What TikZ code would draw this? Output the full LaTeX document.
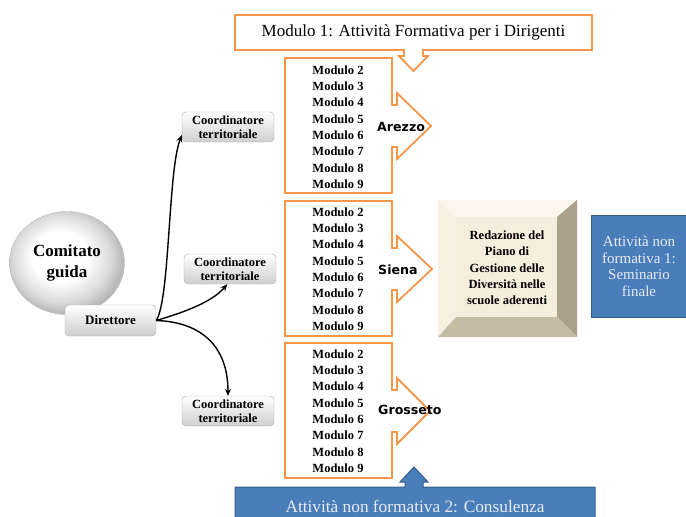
\documentclass[tikz,border=0pt]{standalone}
\usepackage{fontspec}
\setmainfont{Liberation Serif}
\setsansfont{DejaVu Sans}
\usetikzlibrary{arrows.meta,shapes.geometric}
\definecolor{orng}{RGB}{245,150,75}
\definecolor{bluefill}{RGB}{74,126,187}
\definecolor{blueline}{RGB}{56,93,138}
\definecolor{bluetext}{RGB}{232,235,242}
\definecolor{bvface}{RGB}{246,238,221}
\definecolor{bvtop}{RGB}{250,246,236}
\definecolor{bvleft}{RGB}{247,241,228}
\definecolor{bvright}{RGB}{172,162,140}
\definecolor{bvbottom}{RGB}{198,188,166}
\pgfdeclareradialshading{ballsh}{\pgfpoint{-4bp}{4bp}}{color(0bp)=(white); color(12bp)=(white); color(21bp)=(gray!28); color(26bp)=(gray!55); color(50bp)=(gray!55)}
\tikzset{
  orangeline/.style={draw=orng, line width=1.8pt, line join=miter, fill=white},
  modlist/.style={font=\bfseries\fontsize{12.5}{16.3}\selectfont, align=center, inner sep=0pt},
  city/.style={font=\sffamily\bfseries\fontsize{12.6}{14}\selectfont, anchor=west, inner sep=0pt},
  coordbox/.style={rounded corners=4pt, draw=gray!65, top color=white, bottom color=gray!38,
    minimum width=92pt, minimum height=30pt, font=\bfseries\fontsize{12.5}{13.5}\selectfont,
    align=center, inner sep=0pt},
  bluebox/.style={fill=bluefill, draw=blueline, line width=1pt},
  bluetxt/.style={text=bluetext, font=\fontsize{15}{16.5}\selectfont, align=center, inner sep=0pt},
  conn/.style={draw=black, line width=1.4pt, -{Stealth[length=7pt,width=6pt]}},
}
\begin{document}
\begin{tikzpicture}[x=1pt,y=-1pt]
\path[use as bounding box] (0,0) rectangle (686,517);
\clip (0,0) rectangle (686,517);

% top callout
\path[orangeline] (235,15) -- (592,15) -- (592,50) -- (423,50) -- (423,56) -- (428,56) -- (413.5,71)
  -- (399,56) -- (404,56) -- (404,50) -- (235,50) -- cycle;
\node[font=\fontsize{17}{19}\selectfont, inner sep=0pt] (m1) at (413.5,32.5) {Modulo 1: Attività Formativa per i Dirigenti};

% Arezzo callout (cy=126)
\path[orangeline] (285,58) -- (392,58) -- (392,105) -- (397,105) -- (397,93) -- (431,126)
  -- (397,159) -- (397,147) -- (392,147) -- (392,193) -- (285,193) -- cycle;
\node[modlist] (ar) at (338,127) {Modulo 2\\Modulo 3\\Modulo 4\\Modulo 5\\Modulo 6\\Modulo 7\\Modulo 8\\Modulo 9};
\node[city] (arl) at (377,127) {Arezzo};

% Siena callout (cy=269)
\path[orangeline] (285,201) -- (392,201) -- (392,248) -- (397,248) -- (397,236) -- (432,269)
  -- (397,302) -- (397,290) -- (392,290) -- (392,336) -- (285,336) -- cycle;
\node[modlist] (si) at (338,269) {Modulo 2\\Modulo 3\\Modulo 4\\Modulo 5\\Modulo 6\\Modulo 7\\Modulo 8\\Modulo 9};
\node[city] (sil) at (378,270) {Siena};

% Grosseto callout (cy=411)
\path[orangeline] (285,343) -- (392,343) -- (392,390) -- (397,390) -- (397,378) -- (430,411)
  -- (397,444) -- (397,432) -- (392,432) -- (392,478) -- (285,478) -- cycle;
\node[modlist] (gr) at (338,411) {Modulo 2\\Modulo 3\\Modulo 4\\Modulo 5\\Modulo 6\\Modulo 7\\Modulo 8\\Modulo 9};
\node[city] (grl) at (378,410) {Grosseto};

% Comitato guida and Direttore
\node[ellipse, minimum width=115pt, minimum height=103pt, shading=ballsh, draw=gray!55,
  font=\bfseries\fontsize{17}{21}\selectfont, align=center] (cg) at (67,263) {Comitato\\guida};
\node[coordbox, minimum width=91pt, minimum height=31pt, font=\bfseries\fontsize{13}{14}\selectfont] (dir) at (110.5,320.5) {Direttore};

% Coordinatori
\node[coordbox] (c1) at (228,127) {Coordinatore\\territoriale};
\node[coordbox] (c2) at (230,269) {Coordinatore\\territoriale};
\node[coordbox] (c3) at (228,411) {Coordinatore\\territoriale};

\draw[conn] (dir.east) .. controls (170,300) and (168,170) .. (c1.190);
\draw[conn] (dir.east) .. controls (185,312) and (212,302) .. (c2.260);
\draw[conn] (dir.east) .. controls (200,322) and (228,345) .. (c3.north);

% bevel box
\fill[bvtop] (438,200) -- (577,200) -- (557,217) -- (456,217) -- cycle;
\fill[bvleft] (438,200) -- (456,217) -- (456,317) -- (438,337) -- cycle;
\fill[bvright] (577,200) -- (577,337) -- (557,317) -- (557,217) -- cycle;
\fill[bvbottom] (438,337) -- (577,337) -- (557,317) -- (456,317) -- cycle;
\fill[bvface] (456,217) rectangle (557,317);
\node[font=\bfseries\fontsize{12.5}{16.3}\selectfont, align=center, inner sep=0pt] (red) at (507,268)
  {Redazione del\\Piano di\\Gestione delle\\Diversità nelle\\scuole aderenti};

% blue box 1
\node[bluebox, minimum width=95pt, minimum height=102pt, anchor=north west] (b1) at (591,215) {};
\node[bluetxt] (b1t) at (b1.center) {Attività non\\formativa 1:\\Seminario\\finale};

% bottom blue callout
\path[bluebox] (235,487) -- (405,487) -- (405,482) -- (400,482) -- (414,467) -- (428,482)
  -- (423,482) -- (423,487) -- (595,487) -- (595,530) -- (235,530) -- cycle;
\node[bluetxt, font=\fontsize{17.3}{19}\selectfont] (b2t) at (415,507) {Attività non formativa 2: Consulenza};
\end{tikzpicture}
\end{document}
